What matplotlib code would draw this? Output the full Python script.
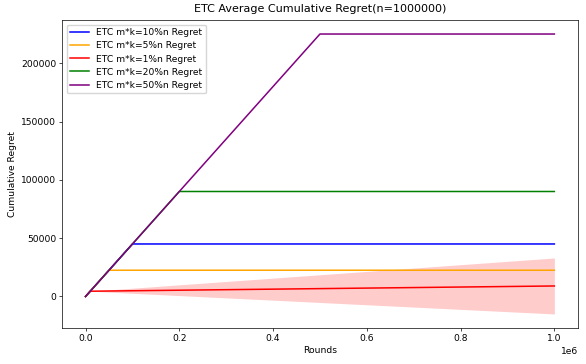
import matplotlib
matplotlib.use("Agg")
import matplotlib.pyplot as plt

n = 1000000

# ETC: linear regret during exploration, then flat (breakpoints)
labels = ["ETC m*k=10%n Regret", "ETC m*k=5%n Regret", "ETC m*k=1%n Regret",
          "ETC m*k=20%n Regret", "ETC m*k=50%n Regret"]
colors = ["blue", "orange", "red", "green", "purple"]
rounds = [
    [0, 100000, 1000000],
    [0, 50000, 1000000],
    [0, 10000, 1000000],
    [0, 200000, 1000000],
    [0, 500000, 1000000],
]
regret = [
    [0, 45000, 45000],
    [0, 22500, 22500],
    [0, 4500, 9000],
    [0, 90000, 90000],
    [0, 225000, 225000],
]

# spread of the 1% run
band_rounds = [0, 10000, 1000000]
band_low = [0, 4500, -15000]
band_high = [0, 4500, 33000]

fs = 6.6
plt.rcParams['font.size'] = fs

fig, ax = plt.subplots(figsize=(5.86, 3.64), dpi=100)
fig.subplots_adjust(left=0.106, right=0.986, top=0.945, bottom=0.099)

for x, y, lab, c in zip(rounds, regret, labels, colors):
    ax.plot(x, y, color=c, label=lab, linewidth=1.1)

ax.fill_between(band_rounds, band_low, band_high, color="red", alpha=0.2, linewidth=0)

ax.set_title(f"ETC Average Cumulative Regret(n={n})", fontsize=8)
ax.set_xlabel("Rounds", fontsize=fs, labelpad=2)
ax.set_ylabel("Cumulative Regret", fontsize=fs, labelpad=3)
ax.tick_params(labelsize=fs, length=2.2, width=0.5, pad=2)
for s in ax.spines.values():
    s.set_linewidth(0.5)
ax.xaxis.get_offset_text().set_fontsize(fs)
ax.legend(loc="upper left", fontsize=fs, handlelength=2.0, borderpad=0.4, labelspacing=0.45)

plt.savefig("out.png", dpi=100)
